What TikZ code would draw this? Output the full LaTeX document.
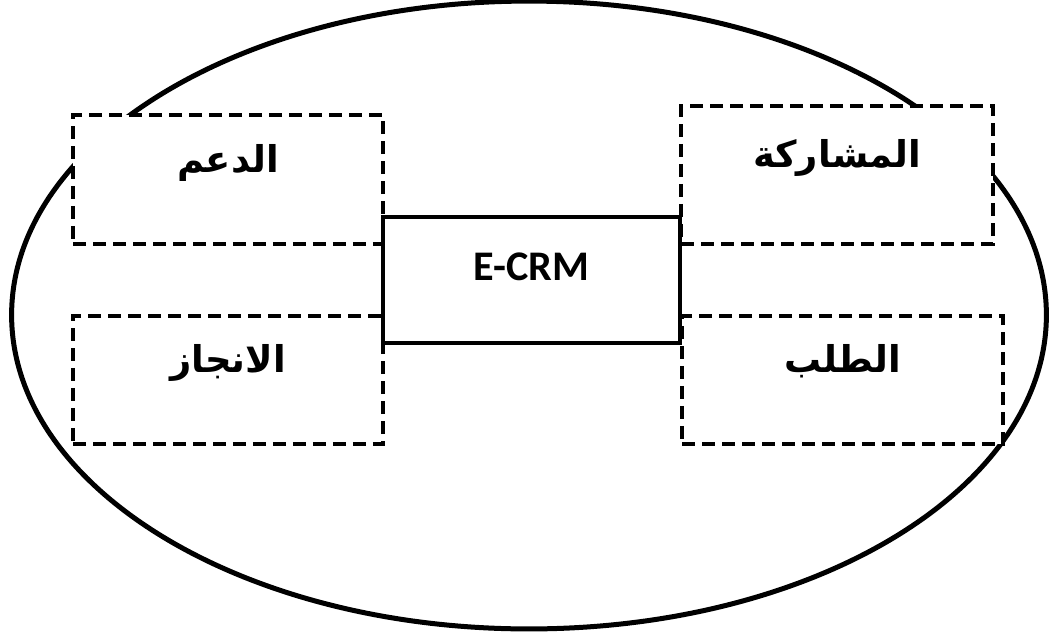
\documentclass[tikz,border=0pt]{standalone}
\usepackage{fontspec}
\setmainfont{Carlito}
\newfontfamily\arabicfont[Script=Arabic]{DejaVu Sans}
\TeXXeTstate=1
\usetikzlibrary{shapes.geometric}

\begin{document}
\begin{tikzpicture}[x=0.02cm,y=-0.02cm,
 frame/.style={draw,ellipse,line width=0.1cm,inner sep=0pt,minimum width=20.7cm,minimum height=12.56cm},
 part/.style={draw,fill=white,line width=0.09cm,dash pattern=on 0.26cm off 0.14cm,inner sep=0pt,
  font=\arabicfont\bfseries\fontsize{21}{24}\selectfont,text height=0.3cm,text depth=0.6cm},
 core/.style={draw,fill=white,line width=0.09cm,inner sep=0pt,minimum width=5.94cm,minimum height=2.52cm,
  font=\bfseries\fontsize{24}{28}\selectfont,text height=0.45cm,text depth=0.45cm}]
\useasboundingbox (0,0) rectangle (1049,633);
\node[frame] (whole) at (529,315) {};
\node[part,minimum width=6.2cm,minimum height=2.58cm] (support) at (228,179.5) {\beginR الدعم\endR};
\node[part,minimum width=6.24cm,minimum height=2.76cm] (share) at (837,175) {\beginR المشاركة\endR};
\node[part,minimum width=6.2cm,minimum height=2.56cm] (achieve) at (228,380) {\beginR الانجاز\endR};
\node[part,minimum width=6.42cm,minimum height=2.56cm] (order) at (842.5,380) {\beginR الطلب\endR};
\node[core] (ecrm) at (531.5,280) {E-CRM};
\end{tikzpicture}
\end{document}
